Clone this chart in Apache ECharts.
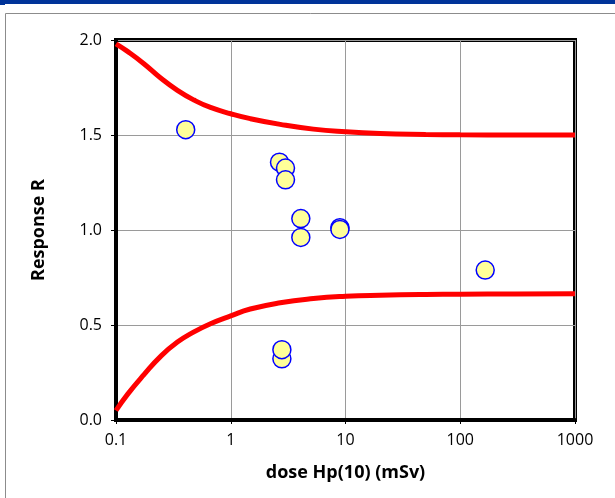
<!DOCTYPE html>
<html>
<head>
<meta charset="utf-8">
<script src="https://cdn.jsdelivr.net/npm/echarts@6/dist/echarts.min.js"></script>
<style>
html,body{margin:0;padding:0;background:#fff;}
#chart{width:615px;height:498px;}
</style>
</head>
<body>
<div id="chart"></div>
<script>
// Limit curves
const curveX  = [0.1, 0.126, 0.176, 0.245, 0.343, 0.478, 0.666, 1, 1.48, 2.7, 5.25, 10, 20, 50, 100, 300, 1000];
const upperY  = [1.98, 1.94, 1.874, 1.80, 1.735, 1.684, 1.645, 1.612, 1.586, 1.556, 1.531, 1.517, 1.508, 1.503, 1.501, 1.5, 1.5];
const lowerY  = [0.05, 0.135, 0.24, 0.335, 0.41, 0.464, 0.507, 0.548, 0.584, 0.617, 0.639, 0.651, 0.657, 0.661, 0.662, 0.663, 0.664];
// Measured points
const doseX   = [0.405, 2.66, 3.0, 3.0, 4.08, 4.08, 8.94, 8.94, 165, 2.79, 2.79];
const respY   = [1.528, 1.357, 1.326, 1.264, 1.06, 0.961, 1.012, 1.003, 0.789, 0.322, 0.37];
// Axis ticks
const yTicks  = ['0.0', '0.5', '1.0', '1.5', '2.0'];
const xTicks  = ['0.1', '1', '10', '100', '1000'];

const pair = (xs, ys) => xs.map((x, i) => [x, ys[i]]);
const font = '"Open Sans", "Noto Sans", sans-serif';

const chart = echarts.init(document.getElementById('chart'), null, {renderer: 'canvas'});
chart.setOption({
  backgroundColor: '#fff',
  animation: false,
  graphic: [
    {type: 'rect', shape: {x: 0, y: 0, width: 615, height: 4}, style: {fill: '#003399'}},
    {type: 'rect', shape: {x: 0, y: 0, width: 5, height: 5}, style: {fill: '#003399'}},
    {type: 'line', shape: {x1: 5.5, y1: 13.5, x2: 615, y2: 13.5}, style: {stroke: '#8c8c8c', lineWidth: 1}},
    {type: 'line', shape: {x1: 5.5, y1: 13.5, x2: 5.5, y2: 498}, style: {stroke: '#8c8c8c', lineWidth: 1}}
  ],
  grid: {left: 116, right: 40, top: 40, bottom: 78, show: true, borderColor: '#000', borderWidth: 4, backgroundColor: 'transparent'},
  xAxis: {
    type: 'log', logBase: 10, min: 0.1, max: 1000,
    name: 'dose Hp(10) (mSv)', nameLocation: 'middle', nameGap: 44,
    nameTextStyle: {fontFamily: font, fontWeight: 'bold', fontSize: 18, color: '#000'},
    axisLine: {show: true, lineStyle: {color: '#000', width: 4}},
    axisTick: {show: true, length: 4, lineStyle: {color: '#000'}},
    axisLabel: {margin: 12, fontFamily: font, fontSize: 16, color: '#000',
      formatter: v => { const i = Math.round(Math.log10(v)) + 1; return xTicks[i] !== undefined ? xTicks[i] : ''; }},
    splitLine: {show: true, lineStyle: {color: '#9a9a9a', width: 1}},
    minorTick: {show: false}
  },
  yAxis: {
    type: 'value', min: 0, max: 2, interval: 0.5,
    name: 'Response R', nameLocation: 'middle', nameGap: 68,
    nameTextStyle: {fontFamily: font, fontWeight: 'bold', fontSize: 18, color: '#000'},
    axisLine: {show: true, lineStyle: {color: '#000', width: 4}},
    axisTick: {show: true, length: 5, lineStyle: {color: '#000'}},
    axisLabel: {margin: 14, fontFamily: font, fontSize: 16, color: '#000',
      formatter: v => yTicks[Math.round(v / 0.5)]},
    splitLine: {show: true, lineStyle: {color: '#9a9a9a', width: 1}}
  },
  series: [
    {type: 'line', data: pair(curveX, upperY), smooth: 0.5, showSymbol: false, lineStyle: {color: '#ff0000', width: 5}, z: 3},
    {type: 'line', data: pair(curveX, lowerY), smooth: 0.5, showSymbol: false, lineStyle: {color: '#ff0000', width: 5}, z: 3},
    {type: 'scatter', data: pair(doseX, respY), symbol: 'circle', symbolSize: 18,
      itemStyle: {color: '#ffff99', borderColor: '#0000ff', borderWidth: 1.5, opacity: 1}, z: 4}
  ]
});
</script>
</body>
</html>
